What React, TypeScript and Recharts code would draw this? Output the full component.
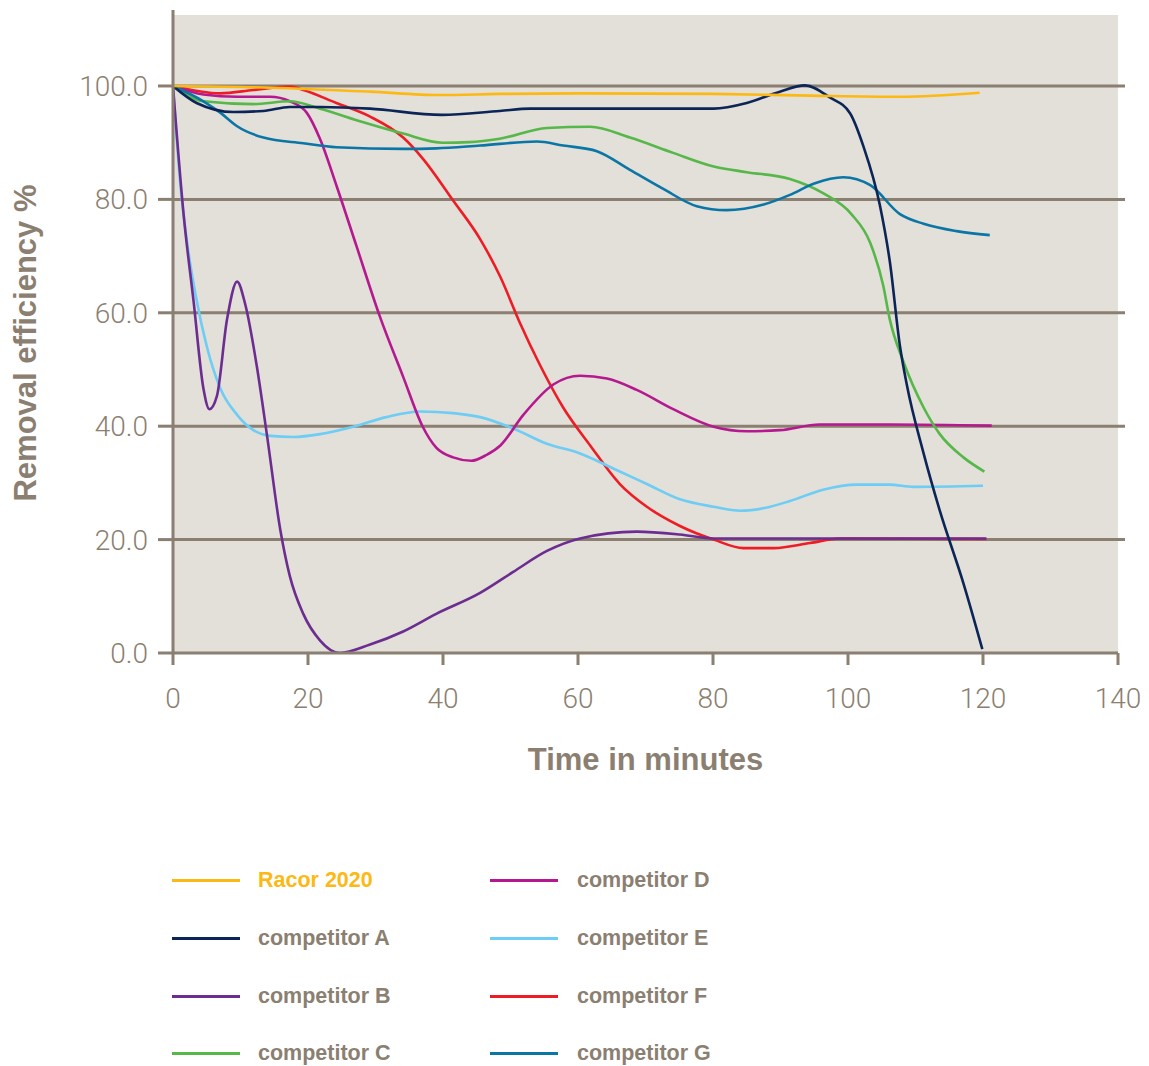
import React from 'react';
import {
    Label,
    Line,
    LineChart,
    ReferenceArea,
    ReferenceLine,
    XAxis,
    YAxis,
} from 'recharts';

// [time in minutes, removal efficiency %]
const racor2020: [number, number][] = [
    [0, 100], [14.4, 99.7], [29.2, 99], [39.5, 98.4], [48.4, 98.6], [60, 98.7],
    [80, 98.6], [94.4, 98.3], [107.7, 98.1], [119.5, 98.8],
];
const competitorA: [number, number][] = [
    [0, 100], [3.5, 97], [9, 95.4], [13.4, 95.6], [17.3, 96.3], [21.8, 96.3], [29.2, 96],
    [39.8, 94.9], [48.4, 95.6], [52.9, 96], [80.1, 96], [85, 97], [89.9, 99], [93.6, 100.1],
    [97.3, 98], [100.3, 95.2], [102.3, 89.3], [104.7, 79.1], [106.2, 69], [107.7, 54.1],
    [108.7, 47.4], [111.2, 35.2], [113.6, 25.1], [117.1, 12.3], [119.9, 0.7],
];
const competitorB: [number, number][] = [
    [0, 100], [1.6, 77], [3.05, 62], [4.5, 46.7], [5.4, 43], [6.5, 45.3], [8, 58.8],
    [9.5, 65.5], [10.7, 61.5], [12.4, 50.7], [13.9, 38.6], [15.9, 21.7], [17.3, 13.6],
    [19.3, 6.9], [21.8, 2.2], [24.7, 0], [29.2, 1.5], [34.1, 3.8], [39, 6.9], [45.5, 10.6],
    [50.4, 14.3], [55.4, 18], [60.3, 20.2], [68.7, 21.4], [75.1, 20.9], [80.1, 20.2],
    [94.4, 20.2], [120.5, 20.2],
];
const competitorC: [number, number][] = [
    [0, 100], [4.5, 97.3], [11.9, 96.8], [17.3, 97.3], [21.8, 96], [28.2, 93.6], [34.1, 91.6],
    [40, 90], [43.9, 90.1], [48.4, 90.7], [55.4, 92.6], [61.8, 92.8], [67.7, 90.9], [74.1, 88.2],
    [80.1, 85.8], [85, 84.8], [91.4, 83.6], [96.3, 81.1], [100.5, 77.4], [103.3, 72.3],
    [105.2, 64.9], [106.2, 58.8], [108.2, 51.4], [111.2, 43.3], [113.6, 38.6], [117.1, 34.5],
    [120.2, 32],
];
const competitorD: [number, number][] = [
    [0, 100], [4.5, 98.5], [9.5, 98.1], [14.4, 98.1], [17.3, 97.3], [19.8, 95.3], [21.8, 90.6],
    [24.2, 82.5], [27.2, 71.7], [30.6, 59.5], [34.1, 48.7], [37, 39.9], [39, 36.2], [41.5, 34.5],
    [44.2, 33.9], [46.4, 34.9], [48.5, 36.6], [51.9, 42], [56.4, 47.4], [60.3, 48.9],
    [64.3, 48.4], [68.7, 46.4], [74.1, 43], [80.1, 39.9], [85, 39.1], [89.9, 39.3],
    [95.8, 40.3], [106.2, 40.3], [121.3, 40.1],
];
const competitorE: [number, number][] = [
    [0, 100], [1.1, 82.5], [2.1, 72.3], [3.5, 62.2], [5, 54.1], [7, 46.7], [9.5, 42],
    [11.9, 39.3], [14.4, 38.3], [17.8, 38.1], [21.8, 38.6], [26.7, 39.9], [31.6, 41.6],
    [36.6, 42.6], [41.5, 42.3], [45.5, 41.6], [50.4, 39.6], [55.4, 36.9], [60.3, 35.2],
    [65.3, 32.5], [70.2, 29.8], [75.1, 27.1], [80.1, 25.8], [84, 25.1], [88.5, 25.8],
    [91.4, 26.8], [96.3, 28.8], [101.3, 29.7], [106.2, 29.7], [109.7, 29.3], [120, 29.5],
];
const competitorF: [number, number][] = [
    [0, 100], [7, 98.7], [11.9, 99.3], [17.3, 99.9], [19.3, 99.3], [24.2, 97], [29.2, 94.6],
    [34.1, 90.9], [37, 87.2], [41.5, 79.8], [45.5, 73], [48.5, 66.3], [51.4, 58.2],
    [54.4, 50.7], [57.8, 43.3], [61.8, 36.6], [66.2, 29.8], [70.2, 25.8], [75.1, 22.4],
    [80.1, 20], [84.5, 18.5], [89, 18.5], [94.4, 19.4], [98.8, 20.2], [120.5, 20.1],
];
const competitorG: [number, number][] = [
    [0, 100], [4.5, 97.3], [7, 95.3], [9.5, 92.9], [13.4, 90.9], [19.3, 89.9], [24.2, 89.2],
    [34.1, 88.9], [39, 89], [45.5, 89.5], [53.9, 90.2], [57.8, 89.5], [62.8, 88.5],
    [67.7, 85.2], [72.7, 81.8], [77.6, 78.8], [82, 78.1], [87.5, 79.1], [91.4, 80.8],
    [95, 82.8], [99.3, 83.9], [103.3, 82.5], [107.7, 77.4], [111.2, 75.7], [116.1, 74.4],
    [121, 73.7],
];

const xTicks = [0, 20, 40, 60, 80, 100, 120, 140];
const yTicks = [0, 20, 40, 60, 80, 100];
const gridValues = [20, 40, 60, 80, 100];

const series = [
    { name: 'Racor 2020', data: racor2020, color: '#fdb913' },
    { name: 'competitor A', data: competitorA, color: '#0c2557' },
    { name: 'competitor B', data: competitorB, color: '#6b2d90' },
    { name: 'competitor C', data: competitorC, color: '#55b848' },
    { name: 'competitor D', data: competitorD, color: '#b5198f' },
    { name: 'competitor E', data: competitorE, color: '#6dcdf5' },
    { name: 'competitor F', data: competitorF, color: '#ee1d25' },
    { name: 'competitor G', data: competitorG, color: '#0a76a5' },
];

// red sits under the purple line where both run along 20 %
const drawOrder = ['competitor F', 'competitor E', 'competitor B', 'competitor D',
    'competitor C', 'competitor G', 'competitor A', 'Racor 2020'];

const AXIS_COLOR = '#8a7f70';
const TEXT_COLOR = '#8b7f71';
const BG_COLOR = '#e3dfd9';
const LIGHT_FONT = 'Roboto, "Open Sans", sans-serif';
const BOLD_FONT = '"Liberation Sans", Arial, sans-serif';

const toPoints = (pairs: [number, number][]) => pairs.map(([x, y]) => ({ x, y }));

const YTitle = (props: any) => {
    const { x, y } = props.viewBox;
    const cx = x + 17;
    const cy = y + 333;
    return (
        <text
            x={cx}
            y={cy}
            transform={`rotate(-90, ${cx}, ${cy})`}
            textAnchor="middle"
            dominantBaseline="central"
            fill={TEXT_COLOR}
            fontFamily={BOLD_FONT}
            fontWeight="bold"
            fontSize={31}
        >
            Removal efficiency %
        </text>
    );
};

const XTitle = (props: any) => {
    const { x, y, width } = props.viewBox;
    return (
        <text
            x={x + width / 2}
            y={y + 106}
            textAnchor="middle"
            dominantBaseline="central"
            fill={TEXT_COLOR}
            fontFamily={BOLD_FONT}
            fontWeight="bold"
            fontSize={31}
        >
            Time in minutes
        </text>
    );
};

const ChartLegend = () => {
    const rows = [872, 930, 988, 1045];
    const cols = [{ line: 164, text: 250 }, { line: 482, text: 569 }];
    return (
        <>
            {series.map((s, i) => {
                const col = cols[Math.floor(i / 4)];
                const top = rows[i % 4];
                return (
                    <React.Fragment key={s.name}>
                        <div
                            style={{
                                position: 'absolute',
                                left: col.line,
                                top: top - 1.5,
                                width: 68,
                                height: 3,
                                background: s.color,
                            }}
                        />
                        <div
                            style={{
                                position: 'absolute',
                                left: col.text,
                                top: top - 13,
                                height: 26,
                                lineHeight: '26px',
                                fontFamily: BOLD_FONT,
                                fontWeight: 'bold',
                                fontSize: 21.5,
                                color: i === 0 ? s.color : TEXT_COLOR,
                                whiteSpace: 'nowrap',
                            }}
                        >
                            {s.name}
                        </div>
                    </React.Fragment>
                );
            })}
        </>
    );
};

export default function App() {
    const ordered = drawOrder.map((n) => series.find((s) => s.name === n)!);
    return (
        <div style={{ position: 'relative', width: 1141, height: 1058 }}>
            <LineChart
                width={1141}
                height={1058}
                margin={{ top: 2, right: 31, bottom: 313, left: 0 }}
            >
                <ReferenceArea
                    x1={0}
                    x2={140}
                    y1={0}
                    y2={112.5}
                    fill={BG_COLOR}
                    fillOpacity={1}
                    stroke="none"
                    ifOverflow="visible"
                />
                {gridValues.map((v) => (
                    <ReferenceLine
                        key={v}
                        segment={[{ x: 0, y: v }, { x: 141.04, y: v }]}
                        stroke={AXIS_COLOR}
                        strokeWidth={3}
                        ifOverflow="visible"
                    />
                ))}
                <XAxis
                    dataKey="x"
                    type="number"
                    domain={[0, 140]}
                    ticks={xTicks}
                    allowDataOverflow
                    height={100}
                    tickSize={12}
                    tickMargin={23}
                    axisLine={{ stroke: AXIS_COLOR, strokeWidth: 3 }}
                    tickLine={{ stroke: AXIS_COLOR, strokeWidth: 3 }}
                    tick={{ fill: TEXT_COLOR, fontSize: 28, fontFamily: LIGHT_FONT, fontWeight: 300 }}
                >
                    <Label content={XTitle} />
                </XAxis>
                <YAxis
                    type="number"
                    domain={[0, 113.4]}
                    ticks={yTicks}
                    allowDataOverflow
                    width={165}
                    tickSize={15}
                    tickMargin={10}
                    tickFormatter={(v: number) => v.toFixed(1)}
                    axisLine={{ stroke: AXIS_COLOR, strokeWidth: 3 }}
                    tickLine={{ stroke: AXIS_COLOR, strokeWidth: 3 }}
                    tick={{ fill: TEXT_COLOR, fontSize: 28, fontFamily: LIGHT_FONT, fontWeight: 300 }}
                >
                    <Label content={YTitle} />
                </YAxis>
                {ordered.map((s) => (
                    <Line
                        key={s.name}
                        name={s.name}
                        data={toPoints(s.data)}
                        dataKey="y"
                        type="monotone"
                        stroke={s.color}
                        strokeWidth={2.6}
                        dot={false}
                        activeDot={false}
                        isAnimationActive={false}
                    />
                ))}
            </LineChart>
            <ChartLegend />
        </div>
    );
}
